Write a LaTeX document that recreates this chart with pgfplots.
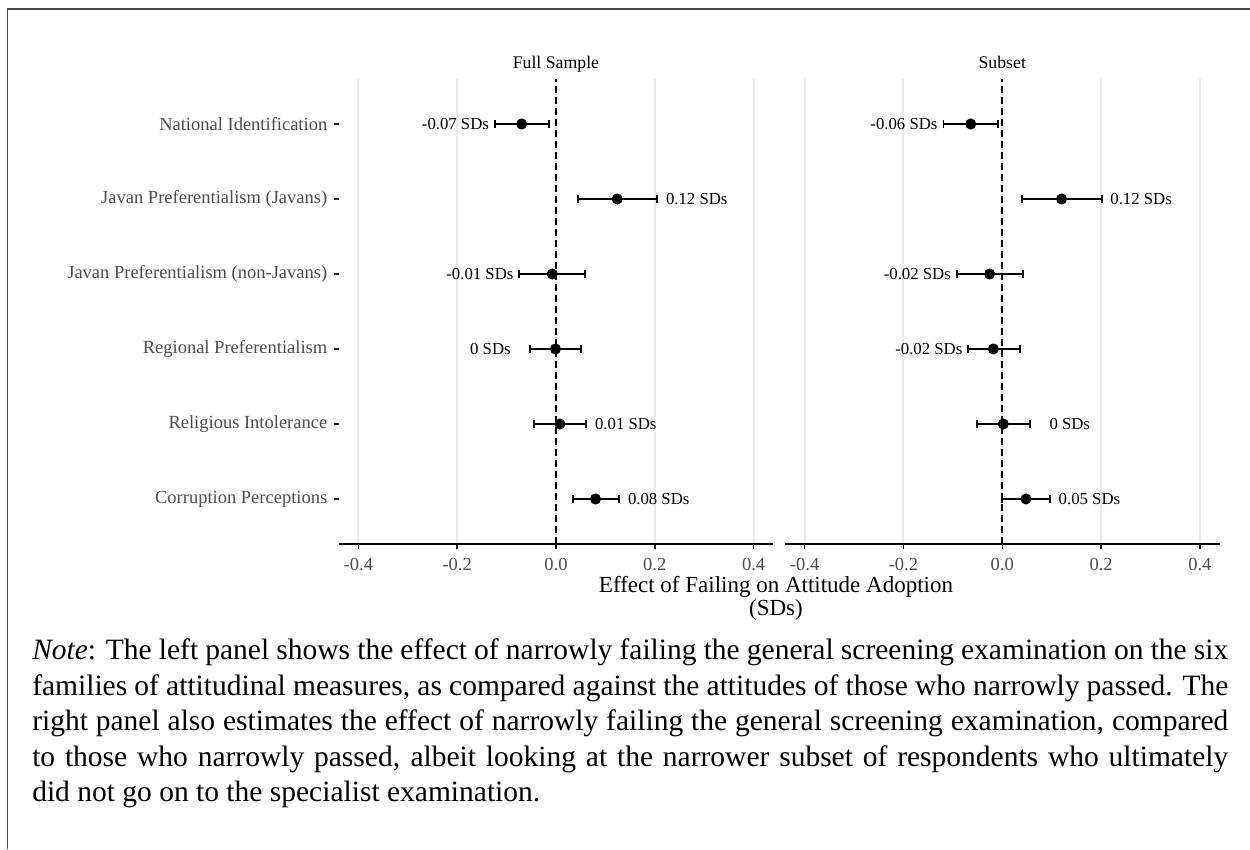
\documentclass[border=0pt]{standalone}
\usepackage{fontspec}
\setmainfont{Liberation Serif}
\usepackage{pgfplots}
\pgfplotsset{compat=1.18}
\usepackage{pgfplotstable}

\definecolor{gridc}{HTML}{EBEBEB}
\definecolor{labc}{HTML}{4D4D4D}

% estimates with CI half-widths (em = to lower end, ep = to upper end)
\pgfplotstableread[col sep=comma]{
x,y,em,ep
-0.0695,6,0.054,0.0553
0.124,5,0.079,0.081
-0.0075,4,0.0665,0.0662
-0.001,3,0.052,0.052
0.008,2,0.0526,0.0534
0.080,1,0.0462,0.048
}\fullest
\pgfplotstableread[col sep=comma]{
x,y,em,ep
-0.064,6,0.055,0.0547
0.120,5,0.0796,0.081
-0.0255,4,0.0665,0.068
-0.018,3,0.0507,0.053
0.002,2,0.0525,0.0546
0.048,1,0.048,0.0484
}\subest
% label positions
\pgfplotstableread[col sep=comma]{
x,y,lab
-0.2035,6,-0.07 SDs
0.285,5,0.12 SDs
-0.154,4,-0.01 SDs
-0.1327,3,0 SDs
0.1414,2,0.01 SDs
0.208,1,0.08 SDs
}\fulllab
\pgfplotstableread[col sep=comma]{
x,y,lab
-0.199,6,-0.06 SDs
0.281,5,0.12 SDs
-0.172,4,-0.02 SDs
-0.1487,3,-0.02 SDs
0.1366,2,0 SDs
0.1764,1,0.05 SDs
}\sublab

\pgfplotsset{
  panel/.style={
    scale only axis, width=173.9pt, height=186pt,
    xmin=-0.44, xmax=0.44, ymin=0.4, ymax=6.6,
    axis x line*=bottom, axis y line*=left,
    x axis line style={line width=0.75pt, -, black},
    y axis line style={draw=none},
    xtick={-0.4,-0.2,0,0.2,0.4},
    xticklabels={-0.4,-0.2,0.0,0.2,0.4},
    xticklabel style={font=\fontsize{7.4}{8}\selectfont, text=labc},
    tick align=outside,
    major tick length=2pt,
    x tick style={line width=0.6pt, black},
    xmajorgrids, ymajorgrids=false,
    major grid style={gridc, line width=0.8pt},
    ytick={1,2,3,4,5,6},
    clip=false,
  },
  est/.style={only marks, mark=*, mark size=2pt, black,
    error bars/.cd, x dir=both, x explicit, error mark=|,
    error bar style={line width=0.75pt, black},
    error mark options={line width=0.75pt, mark size=1.5pt, black}},
  labs/.style={only marks, mark=none, nodes near coords,
    point meta=explicit symbolic, nodes near coords align={center},
    every node near coord/.append style={font=\fontsize{6.7}{8}\selectfont, text=black, inner sep=0pt}},
  zero/.style={black, line width=0.75pt, dash pattern=on 2.7pt off 1.7pt},
}

\begin{document}
\begin{tikzpicture}
\useasboundingbox (0,0) rectangle (500pt,339.6pt);
\draw[line width=0.6pt, black!70] (2.9pt,0) -- (2.9pt,336pt) -- (500pt,336pt);

\begin{axis}[panel, at={(135.44pt,122pt)}, anchor=south west,
  yticklabels={Corruption Perceptions,Religious Intolerance,Regional Preferentialism,Javan Preferentialism (non-Javans),Javan Preferentialism (Javans),National Identification},
  yticklabel style={font=\fontsize{7.4}{8}\selectfont, text=labc, xshift=1pt},
  y tick style={line width=0.8pt, black!85},
]
\addplot[zero] coordinates {(0,0.4) (0,6.6)};
\addplot[est] table[x=x, y=y, x error plus=ep, x error minus=em] {\fullest};
\addplot[labs] table[x=x, y=y, meta=lab] {\fulllab};
\node[anchor=base, inner sep=0pt, font=\fontsize{7.1}{8}\selectfont, yshift=4.4pt]
  at (axis description cs:0.5,1) {Full Sample};
\end{axis}

\begin{axis}[panel, at={(313.96pt,122pt)}, anchor=south west,
  yticklabels={}, y tick style={draw=none},
]
\addplot[zero] coordinates {(0,0.4) (0,6.6)};
\addplot[est] table[x=x, y=y, x error plus=ep, x error minus=em] {\subest};
\addplot[labs] table[x=x, y=y, meta=lab] {\sublab};
\node[anchor=base, inner sep=0pt, font=\fontsize{7.1}{8}\selectfont, yshift=4.4pt]
  at (axis description cs:0.5,1) {Subset};
\end{axis}

\node[anchor=base, align=center, font=\fontsize{9.2}{9.1}\selectfont, inner sep=0pt]
  at (310.4pt,93.4pt) {Effect of Failing on Attitude Adoption\\(SDs)};

\node[anchor=base west, inner sep=0pt] at (12.7pt,75.6pt) {%
\parbox[t]{478.4pt}{\fontsize{11.8}{14.17}\selectfont
\noindent\textit{Note}: The left panel shows the effect of narrowly failing the general screening examination on the six\linebreak
families of attitudinal measures, as compared against the attitudes of those who narrowly passed. The\linebreak
right panel also estimates the effect of narrowly failing the general screening examination, compared\linebreak
to those who narrowly passed, albeit looking at the narrower subset of respondents who ultimately\linebreak
did not go on to the specialist examination.}};
\end{tikzpicture}
\end{document}
